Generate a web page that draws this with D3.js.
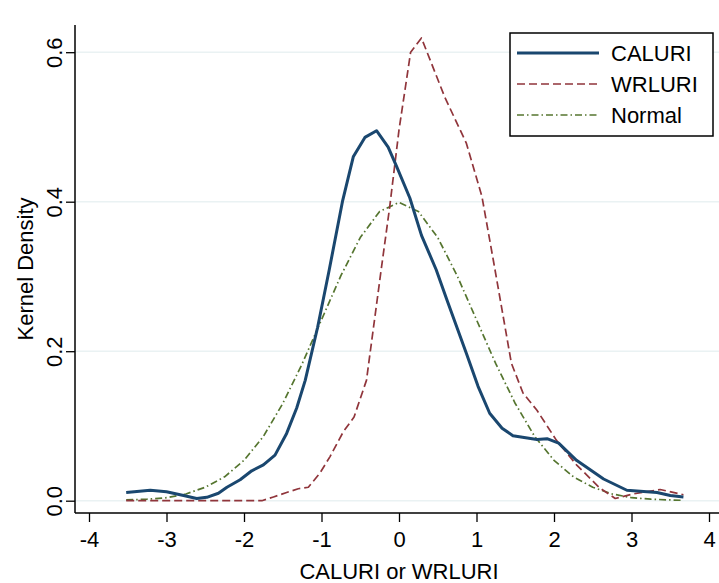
<!DOCTYPE html>
<html>
<head>
<meta charset="utf-8">
<script src="https://cdn.jsdelivr.net/npm/d3@7"></script>
<style>
	body { margin: 0; background: #fff; }
	svg { display: block; font-family: "Liberation Sans", Arial, sans-serif; }
</style>
</head>
<body>
<div id="chart"></div>
<script>
// values
var caluriX = [-3.52, -3.21, -3.0, -2.78, -2.61, -2.48, -2.33, -2.22, -2.05, -1.90, -1.75, -1.60, -1.45, -1.32, -1.21, -1.05, -0.90, -0.73, -0.59, -0.44, -0.29, -0.14, -0.03, 0.14, 0.29, 0.48, 0.62, 0.87, 1.02, 1.17, 1.33, 1.47, 1.78, 1.91, 2.06, 2.29, 2.64, 2.94, 3.33, 3.50, 3.67];
var caluriY = [0.011, 0.014, 0.012, 0.007, 0.003, 0.0045, 0.010, 0.018, 0.028, 0.040, 0.048, 0.061, 0.090, 0.124, 0.161, 0.232, 0.309, 0.400, 0.460, 0.486, 0.495, 0.473, 0.447, 0.405, 0.355, 0.309, 0.268, 0.197, 0.153, 0.117, 0.097, 0.087, 0.082, 0.083, 0.077, 0.054, 0.029, 0.014, 0.011, 0.007, 0.005];

var wrluriX = [-3.52, -1.77, -1.62, -1.45, -1.30, -1.17, -1.02, -0.89, -0.72, -0.58, -0.42, -0.23, -0.12, 0.0, 0.15, 0.29, 0.59, 0.87, 1.07, 1.22, 1.45, 1.60, 1.78, 2.03, 2.29, 2.59, 2.79, 3.02, 3.37, 3.67];
var wrluriY = [0.0, 0.0, 0.005, 0.011, 0.016, 0.018, 0.037, 0.059, 0.092, 0.112, 0.161, 0.309, 0.393, 0.496, 0.600, 0.619, 0.540, 0.478, 0.407, 0.320, 0.184, 0.144, 0.121, 0.081, 0.048, 0.017, 0.003, 0.009, 0.015, 0.008];

var normalX = [-3.52, -3.25, -3.0, -2.75, -2.5, -2.25, -2.0, -1.75, -1.5, -1.25, -1.0, -0.75, -0.5, -0.25, 0.0, 0.25, 0.5, 0.75, 1.0, 1.25, 1.5, 1.75, 2.0, 2.25, 2.5, 2.75, 3.0, 3.25, 3.5, 3.67];
var normalY = [0.001, 0.002, 0.004, 0.009, 0.018, 0.032, 0.054, 0.086, 0.130, 0.183, 0.242, 0.301, 0.352, 0.387, 0.399, 0.387, 0.352, 0.301, 0.242, 0.183, 0.130, 0.086, 0.054, 0.032, 0.018, 0.009, 0.004, 0.002, 0.001, 0.0005];

var xTicks = [-4, -3, -2, -1, 0, 1, 2, 3, 4];
var yTicks = [0, 0.2, 0.4, 0.6];
var seriesNames = ["CALURI", "WRLURI", "Normal"];

(function () {
	var width = 719, height = 583;
	var left = 75, bottom = 513, top = 25;
	var fontSize = 22;

	var colors = { CALURI: "#1a476f", WRLURI: "#90353b", Normal: "#55752f" };
	var widths = { CALURI: 3, WRLURI: 1.7, Normal: 1.7 };
	var dashes = { CALURI: null, WRLURI: "8,4", Normal: "7,3,1.5,3" };

	var x = d3.scaleLinear().domain([-4, 4]).range([89, 709]);
	var y = d3.scaleLinear().domain([0, 0.6]).range([500.7, 52.2]);

	var svg = d3.select("#chart").append("svg")
		.attr("width", width)
		.attr("height", height);

	// grid lines
	svg.append("g").attr("class", "grid")
		.selectAll("line").data(yTicks).enter().append("line")
		.attr("x1", left).attr("x2", width)
		.attr("y1", function (d) { return y(d); })
		.attr("y2", function (d) { return y(d); })
		.attr("stroke", "#eaf2f3")
		.attr("stroke-width", 1.5);

	// axes (plain hyphen for negatives, like the original)
	var xAxis = svg.append("g")
		.attr("transform", "translate(0," + bottom + ")")
		.call(d3.axisBottom(x).tickValues(xTicks).tickSize(9).tickSizeOuter(0).tickPadding(9)
			.tickFormat(function (d) { return String(d); }));
	xAxis.select(".domain").remove();

	var yAxis = svg.append("g")
		.attr("transform", "translate(" + left + ",0)")
		.call(d3.axisLeft(y).tickValues(yTicks).tickSize(9).tickSizeOuter(0)
			.tickFormat(function (d) { return d.toFixed(1); }));
	yAxis.select(".domain").remove();
	yAxis.selectAll(".tick text")
		.attr("transform", "rotate(-90)")
		.attr("x", 0)
		.attr("y", -13)
		.attr("dy", 0)
		.attr("text-anchor", "middle");

	svg.selectAll(".tick line").attr("stroke", "#000").attr("stroke-width", 1.3);
	svg.selectAll(".tick text")
		.attr("fill", "#000")
		.style("font-size", fontSize + "px")
		.style("font-family", "'Liberation Sans', Arial, sans-serif");

	svg.append("line")
		.attr("x1", left).attr("x2", left)
		.attr("y1", top).attr("y2", bottom)
		.attr("stroke", "#000").attr("stroke-width", 1.5);
	svg.append("line")
		.attr("x1", left).attr("x2", width)
		.attr("y1", bottom).attr("y2", bottom)
		.attr("stroke", "#000").attr("stroke-width", 1.5);

	// axis titles
	svg.append("text")
		.text("CALURI or WRLURI")
		.attr("x", 399)
		.attr("y", 579)
		.attr("text-anchor", "middle")
		.style("font-size", fontSize + "px");

	svg.append("text")
		.text("Kernel Density")
		.attr("transform", "translate(33,269) rotate(-90)")
		.attr("text-anchor", "middle")
		.style("font-size", fontSize + "px");

	// curves
	var data = {
		CALURI: d3.zip(caluriX, caluriY),
		WRLURI: d3.zip(wrluriX, wrluriY),
		Normal: d3.zip(normalX, normalY)
	};
	var line = d3.line()
		.x(function (d) { return x(d[0]); })
		.y(function (d) { return y(d[1]); });

	["Normal", "WRLURI", "CALURI"].forEach(function (name) {
		svg.append("path")
			.datum(data[name])
			.attr("d", line)
			.attr("fill", "none")
			.attr("stroke", colors[name])
			.attr("stroke-width", widths[name])
			.attr("stroke-dasharray", dashes[name])
			.attr("stroke-linejoin", "round");
	});

	// legend
	var legend = svg.append("g").attr("class", "legend");
	legend.append("rect")
		.attr("x", 510).attr("y", 33)
		.attr("width", 203).attr("height", 103)
		.attr("fill", "#fff")
		.attr("stroke", "#000")
		.attr("stroke-width", 1.5);

	var rowY = [53, 84, 115];
	seriesNames.forEach(function (name, i) {
		legend.append("line")
			.attr("x1", 517).attr("x2", 599)
			.attr("y1", rowY[i]).attr("y2", rowY[i])
			.attr("stroke", colors[name])
			.attr("stroke-width", widths[name])
			.attr("stroke-dasharray", dashes[name]);
		legend.append("text")
			.text(name)
			.attr("x", 611)
			.attr("y", rowY[i] + 8)
			.style("font-size", fontSize + "px");
	});
})();
</script>
</body>
</html>
